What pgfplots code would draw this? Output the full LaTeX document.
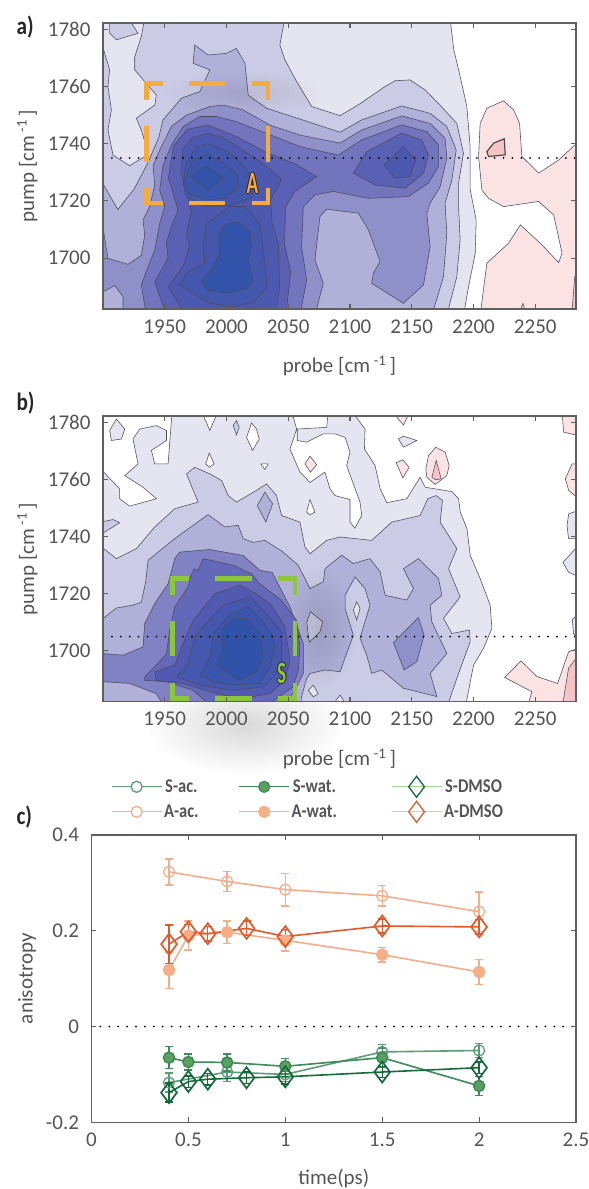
\documentclass[border=0pt]{standalone}
\usepackage{pgfplots}
\usepackage{fontspec}
\setmainfont{Carlito}
\pgfplotsset{compat=1.18}
\usetikzlibrary{fadings}
\tikzfading[name=softglow,inner color=transparent!0,outer color=transparent!100]
\definecolor{txt}{HTML}{555555}
\definecolor{axc}{HTML}{5F5F5F}
\definecolor{cline}{HTML}{4A4A5C}
\definecolor{aA}{HTML}{E5E5F2}\definecolor{aB}{HTML}{CBCBE5}\definecolor{aC}{HTML}{B0B0D9}
\definecolor{aD}{HTML}{8F90CA}\definecolor{aE}{HTML}{7274BD}\definecolor{aF}{HTML}{5A60B3}
\definecolor{aG}{HTML}{4C59AE}\definecolor{aH}{HTML}{4357AC}\definecolor{aI}{HTML}{3B55AB}
\definecolor{aJ}{HTML}{3253A9}
\definecolor{bD}{HTML}{8082C4}\definecolor{bE}{HTML}{6468B8}\definecolor{bF}{HTML}{5259B1}
\definecolor{bG}{HTML}{4558AD}\definecolor{bH}{HTML}{3B55AB}\definecolor{bI}{HTML}{3053A9}
\definecolor{pkA}{HTML}{FBE3E3}\definecolor{pkB}{HTML}{F5C4C8}
\definecolor{boxO}{HTML}{F5AB3E}\definecolor{boxG}{HTML}{8CC63F}
\definecolor{Aac}{HTML}{F5AE8C}\definecolor{Awat}{HTML}{F5AE8C}\definecolor{Awatf}{HTML}{F8AE84}
\definecolor{Adm}{HTML}{E15A2B}\definecolor{Sac}{HTML}{5E9B78}\definecolor{Swat}{HTML}{3F8A5C}
\definecolor{Swatf}{HTML}{5AA060}\definecolor{Sdm}{HTML}{136B3A}
\definecolor{Sdml}{HTML}{A6D49A}\definecolor{Adml}{HTML}{F5C48A}
\newcommand\poly[2]{\addplot[fill=#1,draw=cline,line width=.55pt] coordinates {#2} --cycle;}
\newcommand\seg[2]{\addplot[draw=#1,line width=4.4pt,line cap=butt,line join=miter] coordinates {#2};}
\newcommand\legimg[5]{\draw[color=#1,line width=1.1pt] (0pt,0pt)--(50pt,0pt);\path plot[mark=#3,mark size=#5pt,mark options={draw=#2,fill=#4,line width=1.3pt,solid}] coordinates {(25pt,0pt)};}
\newcommand\lbltext[1]{\fontsize{31}{31}\selectfont\bfseries\scalebox{.62}[1]{#1}}
\newcommand\boxlabel[3]{%
\node[text=black!85,xshift=-1pt] at (axis cs:#1) {\lbltext{#2}};%
\node[text=black!85,xshift=1pt] at (axis cs:#1) {\lbltext{#2}};%
\node[text=black!85,yshift=-1pt] at (axis cs:#1) {\lbltext{#2}};%
\node[text=black!85,yshift=1pt] at (axis cs:#1) {\lbltext{#2}};%
\node[text=#3] at (axis cs:#1) {\lbltext{#2}};}
\pgfplotsset{
 base/.style={scale only axis,axis on top,clip=true,
  axis line style={draw=axc,line width=1.4pt},
  tick style={draw=axc,line width=1.1pt},
  major tick length=5pt,
  tick pos=both, tick align=inside,
  tick label style={font=\fontsize{21}{21}\selectfont,text=txt},
  /pgf/number format/assume math mode=true,
  /pgf/number format/1000 sep={},
  xticklabel style={yshift=-7pt},
  yticklabel style={xshift=-9pt},
 },
 spec/.style={base,width=473pt,
  xmin=1900,xmax=2283,ymin=1682.2,ymax=1782.2,
  xtick={1950,2000,2050,2100,2150,2200,2250},
  ytick={1700,1720,1740,1760,1780},
  every axis y label/.style={at={(axis description cs:-0.16,0.5)},rotate=90,anchor=center,font=\fontsize{21}{21}\selectfont,text=txt},
  every axis x label/.style={at={(axis description cs:0.5,-0.2)},anchor=center,font=\fontsize{21}{21}\selectfont,text=txt},
  xlabel={probe [cm\,\textsuperscript{-1}\,]},ylabel={pump [cm\,\textsuperscript{-1}\,]},
 },
}
\begin{document}
\begin{tikzpicture}[x=1pt,y=1pt]
\path[use as bounding box] (0pt,0pt) rectangle (589pt,1189pt);
\shade[inner color=black!15,outer color=white] (245pt,464pt) ellipse (100pt and 50pt);
\node[anchor=west,text=black!85] at (13pt,1162pt) {\fontsize{25}{25}\selectfont\bfseries\scalebox{.85}[1]{a)}};
\node[anchor=west,text=black!85] at (13pt,786pt) {\fontsize{25}{25}\selectfont\bfseries\scalebox{.85}[1]{b)}};
\node[anchor=west,text=black!85] at (13pt,372pt) {\fontsize{25}{25}\selectfont\bfseries\scalebox{.85}[1]{c)}};
%% panel a
\begin{axis}[spec,at={(103pt,880pt)},anchor=south west,height=286pt]
\poly{aA}{(2181,1784)(2184,1773)(2190,1762)(2194.6,1753)(2197.3,1739)(2197.3,1724)(2202.2,1713.3)(2201.4,1701.7)(2196,1690)(2191.9,1680)(1898,1680)(1898,1784)}
\poly{aB}{(1933.8,1784)(1931,1777.4)(1925.7,1770.4)(1925.7,1765.8)(1933.8,1761.7)(1943.2,1757)(1941.9,1753.5)(1927,1748.9)(1931,1744.8)(1933.8,1740.7)(1933.8,1735.5)(1921.6,1732.3)(1908.1,1736)(1904,1744.8)(1906.8,1751.8)(1904,1760)(1905.4,1765.8)(1900.5,1772.8)(1898,1773)(1898,1680)(2178.4,1680)(2186.5,1693.5)(2189.2,1706.4)(2187.9,1718)(2187.9,1726.2)(2191.9,1736.7)(2186.5,1747.1)(2171.6,1754.1)(2160.8,1758.8)(2148.6,1762.3)(2136.5,1762)(2128.4,1760)(2106.8,1753.6)(2091.9,1749.8)(2069,1753)(2056.8,1761.7)(2047.3,1769.3)(2043.2,1774.5)(2047.3,1784)}
\poly{aB}{(1905.4,1784)(1905.4,1778.6)(1910.8,1776.3)(1928.4,1778.6)(1920.3,1784)}
\poly{pkA}{(2224.4,1755)(2210.8,1752.4)(2205.4,1747.1)(2204.1,1735.5)(2206.8,1723.8)(2212.2,1720.9)(2224.4,1718)(2252.7,1719.8)(2264.9,1715.1)(2267.6,1709.8)(2271.7,1701.7)(2269,1698.4)(2254.1,1705.2)(2237.9,1711.6)(2228.4,1705.2)(2210.8,1698.2)(2205.4,1680)(2285,1680)(2285,1740.7)(2269,1734.3)(2252.7,1729.7)(2239.2,1735.5)(2237.3,1747.1)(2232.5,1751.8)}
\addplot[fill=pkB,draw=black!70,line width=1.2pt] coordinates {(2210.8,1737.2)(2216.3,1740.2)(2224.9,1741.7)(2225.7,1736.1)(2212.2,1735.5)} --cycle;
\poly{pkB}{(2236.5,1680)(2240,1684.2)(2243,1680)}
\poly{pkB}{(2279.5,1680)(2282,1693.5)(2285,1695)(2285,1680)}
\poly{aC}{(1898,1725.6)(1900.5,1725.6)(1912,1717)(1925,1724)(1936,1733)(1945,1742)(1948.6,1748.3)(1963.5,1755.9)(1978.4,1758.2)(1986.5,1765.8)(1973,1768.1)(1974.3,1774.5)(1985.1,1771)(2000,1771.6)(2008,1773.3)(2014.9,1768.1)(2017.6,1757)(2032.4,1752.4)(2059.5,1748.6)(2091.9,1744)(2109.5,1748.3)(2141.9,1753.2)(2164.9,1750.6)(2178.4,1746)(2186,1737.8)(2182.5,1727.3)(2177,1719.2)(2178.4,1708.7)(2175.7,1693.5)(2166.3,1680)(1898,1680)}
\fill[black,opacity=.07,path fading=softglow] (axis cs:2015,1758) ellipse (85pt and 22pt);
\poly{aD}{(1916.2,1680)(1916.2,1686.5)(1909.5,1690.4)(1900.5,1688.3)(1898,1688)(1898,1709.2)(1900.5,1709.2)(1904,1699.9)(1920.3,1697.8)(1931,1701)(1933.8,1708)(1932.4,1713.3)(1937.8,1718)(1941.9,1725.6)(1940.5,1732.3)(1947.3,1739)(1955.4,1746)(1967.6,1750)(1986.5,1753)(1997.3,1753.5)(2013.5,1751.8)(2035.1,1746.5)(2059.5,1743)(2091.9,1740.2)(2109.5,1744.8)(2141.9,1749.7)(2164.9,1747.1)(2177,1741.9)(2178.4,1734.9)(2173,1725)(2164.9,1719.2)(2162.2,1715.7)(2164.9,1704)(2159.5,1690.6)(2143.2,1684.2)(2117.6,1691.2)(2118.9,1694.7)(2124.3,1698.8)(2114.9,1709.9)(2106.8,1715.7)(2081.1,1717.1)(2075.7,1714.5)(2071.6,1699.4)(2078.4,1691.2)(2071.6,1680)}
\poly{aE}{(1935.1,1680)(1931,1690.6)(1936.5,1697)(1941.9,1702.8)(1945.9,1712.1)(1950,1718)(1945.9,1723.8)(1948.6,1732.3)(1955.4,1739.5)(1964.9,1746)(1978.4,1749.5)(1991.9,1749.5)(2008,1747.7)(2032.4,1743.6)(2059.5,1739)(2090.5,1736)(2109.5,1741.3)(2141.9,1746.6)(2162.2,1744.2)(2171.6,1739.6)(2171.6,1732)(2163.5,1726.2)(2147.3,1721.5)(2114.9,1720.9)(2086.5,1723.3)(2071.6,1722.1)(2062.2,1718)(2060.8,1704)(2064.9,1692.4)(2059.5,1680)}
\poly{aF}{(1951.3,1680)(1941.9,1691.7)(1952.7,1699.9)(1951.3,1705.2)(1955.4,1711)(1960.8,1716.8)(1953,1728)(1957,1739)(1968,1745)(1985,1746.5)(2008,1742.5)(2032,1737)(2055.4,1733)(2073,1728.5)(2055.4,1723.3)(2048,1718)(2047,1705)(2052,1695)(2048,1680)}
\poly{aF}{(2102.7,1729.7)(2113.5,1737.2)(2141.9,1743.7)(2158.1,1741.3)(2163.5,1736)(2159.5,1729.7)(2144.6,1724.4)(2120.3,1725.6)}
\poly{aG}{(2127.8,1732.6)(2143.2,1739)(2153.2,1734.3)(2148.6,1728.5)(2136.5,1727.9)}
\poly{aG}{(1967.5,1680)(1952.7,1690)(1964.8,1697)(1970.2,1704)(1967.5,1708.6)(1971.6,1716.2)(1963,1730)(1965,1738)(1972,1742)(1985,1743.6)(1998,1742)(2012,1738)(2030,1733)(2044.6,1727.5)(2035.6,1720.2)(2037,1712)(2042,1705)(2043,1690)(2040,1680)}
\poly{aH}{(1965,1726)(1967,1733)(1975,1738.5)(1985,1740)(2000,1737.5)(2012,1733)(2024,1727)(2020,1721)(2005,1718.5)(1985,1718)(1975,1719.5)(1967,1722)}
\poly{aH}{(1986.5,1684.2)(1962.1,1690.6)(1968.9,1695.2)(1982.4,1698.2)(1981,1704)(1983.8,1712.1)(2002.7,1718)(2014.8,1718)(2027,1712.1)(2031,1697.6)(2033,1690)(2022,1684.5)(2005,1683)}
\poly{aI}{(1966,1727)(1972,1734)(1985,1736.5)(1998,1733)(2009,1729)(2009.5,1725)(2000,1721)(1984,1720.3)(1969,1722.6)}
\poly{aJ}{(1970.8,1728.5)(1983.8,1732)(1997.3,1728)(1985.1,1723.8)}
\poly{aJ}{(1998.6,1711.6)(2009.4,1712.7)(2018.9,1709.2)(2020.2,1704)(2017.5,1699.3)(2021.6,1692.3)(2016.2,1689.4)(2000,1687.7)(1985.1,1688.8)(1979.7,1691.7)(1989.2,1697)(1994.6,1701.7)(1993.2,1707.5)}
\addplot[black,line width=2pt,line cap=round,dash pattern=on 0pt off 8.9pt] coordinates {(1900,1735)(2283,1735)};
\seg{boxO}{(1935.1,1755.3)(1935.1,1761.1)(1948.7,1761.1)}
\seg{boxO}{(1969.7,1761.1)(1998.7,1761.1)}
\seg{boxO}{(2020.3,1761.1)(2033.8,1761.1)(2033.8,1755.3)}
\seg{boxO}{(1935.1,1746.2)(1935.1,1733.7)}
\seg{boxO}{(2033.8,1746.2)(2033.8,1733.7)}
\seg{boxO}{(1935.1,1724.6)(1935.1,1719.2)(1948.7,1719.2)}
\seg{boxO}{(1969.7,1719.2)(1998.7,1719.2)}
\seg{boxO}{(2020.3,1719.2)(2033.8,1719.2)(2033.8,1724.6)}
\boxlabel{2021,1726}{A}{boxO}
\end{axis}
%% panel b
\begin{axis}[spec,at={(103pt,487.3pt)},anchor=south west,height=285.5pt,axis background/.style={fill=white}]
\poly{aA}{(1898,1784)(2101.4,1784)(2112.2,1777.7)(2111.7,1770.7)(2120.3,1764.9)(2124.4,1756.8)(2129.8,1751.9)(2146,1753.3)(2156.8,1760.8)(2160.9,1757.3)(2182.5,1755.8)(2187.9,1753.3)(2189.3,1748.6)(2194.7,1742.8)(2197.3,1733.5)(2205.4,1725.3)(2213.5,1716)(2214.9,1707.9)(2208.1,1700.9)(2200,1695)(2193.3,1680)(1898,1680)}
\poly{white}{(1956,1784)(1952.7,1765.5)(1941.9,1765.5)(1939.2,1770.2)(1951.4,1773.7)(1951.4,1777.2)(1943.2,1778.9)(1929.7,1777.7)(1924.3,1774.2)(1928.4,1765.5)(1917.6,1761.4)(1932.4,1757.3)(1943.2,1753.3)(1921.6,1750.7)(1913.5,1753.3)(1913.5,1756.8)(1900.5,1762.6)(1898,1762.6)(1898,1784)}
\poly{aA}{(1905.4,1777.2)(1910.8,1781.2)(1917.6,1777.7)(1914.9,1774.2)(1906.8,1773.7)}
\poly{white}{(1979.7,1784)(1986.5,1777.2)(1993.2,1784)}
\poly{aB}{(2005.4,1778.9)(2008.1,1780.7)(2010.3,1778.3)(2008.1,1775.6)}
\poly{white}{(2016.2,1774.8)(2020.3,1779.8)(2024.3,1777.7)(2026.5,1774.2)(2021.1,1770.2)}
\poly{white}{(1983.2,1765.5)(1986,1769.3)(1990,1765.5)(1986,1764.3)}
\poly{white}{(2027.8,1765.5)(2033.8,1765.5)(2031.1,1763.5)}
\poly{white}{(2052.7,1784)(2082.4,1784)(2081.1,1778.3)(2057.3,1777.7)(2057.3,1773.7)(2064.9,1773.1)(2078.4,1776)(2087.8,1776)(2096,1774.8)(2100,1769.6)(2097.3,1764.9)(2108.1,1752.1)(2109.5,1747.4)(2104,1743)(2100,1745.1)(2100,1753)(2087.8,1754.4)(2083.8,1756.8)(2079.7,1762.6)(2067.6,1759)(2059.5,1762.6)(2051.4,1770.7)(2056.8,1777.7)}
\poly{white}{(2064.9,1748.6)(2067.6,1753)(2071.6,1748.6)(2067.6,1747.7)}
\poly{pkA}{(2063.5,1765.5)(2067.6,1768.2)(2073,1765.2)(2068,1762.6)}
\poly{pkA}{(2133.8,1784)(2143.3,1779.1)(2148.7,1784)}
\poly{aA}{(2139.3,1774.2)(2143.3,1775.2)(2154.1,1773.7)(2143.3,1771.3)}
\poly{pkA}{(2137.4,1765.9)(2142.8,1766.9)(2147.9,1764.3)(2142.8,1760.6)}
\poly{pkA}{(2161.4,1763.8)(2163.6,1768.4)(2169.5,1771.3)(2177.1,1769.6)(2180.3,1764.9)(2178.4,1761.4)(2169,1758.3)(2162.2,1760.8)}
\poly{pkB}{(2166.3,1760.8)(2169.8,1766.7)(2173.8,1760.3)(2169.5,1759.9)}
\poly{pkA}{(2271.7,1784)(2273,1776.6)(2285,1775.4)(2285,1784)}
\poly{pkA}{(2274.4,1760.3)(2279.8,1765.5)(2285,1765.5)(2285,1753.3)(2277.1,1756.2)}
\poly{aA}{(2275.7,1743.9)(2277.1,1748)(2285,1749.2)(2285,1739.3)(2277,1739.3)}
\poly{aA}{(2272.5,1731)(2285,1737)(2285,1726)(2277,1727.5)}
\poly{aA}{(2280,1711)(2285,1713)(2285,1704)(2281,1706)}
\poly{pkA}{(2225.2,1690.7)(2238.4,1696.5)(2251.4,1691)(2268.1,1688.6)(2277,1699.7)(2285,1700.9)(2285,1680)(2243.3,1680)(2247.3,1685.7)}
\poly{pkB}{(2271.7,1680)(2277,1693.9)(2285,1698.5)(2285,1680)}
\poly{aB}{(1967.6,1762)(1974.3,1764.3)(1986.5,1762)(1996,1759.7)(2001.4,1754.4)(2008.1,1752.1)(2024.3,1756.2)(2032.4,1758.5)(2040.5,1754.4)(2044.6,1747.4)(2059.5,1745.1)(2063.5,1736.4)(2067.6,1734)(2081.1,1738.7)(2091.9,1739.9)(2117.6,1738.7)(2133.8,1745.1)(2156.8,1747.4)(2163,1753.3)(2169.8,1754.4)(2174.9,1752.7)(2173,1745.1)(2186.5,1735.8)(2179.8,1728.8)(2189.2,1718.9)(2175.7,1711.4)(2182.5,1706.1)(2196.8,1707.3)(2197.3,1703.2)(2186.5,1690.4)(2178.4,1680)(1898,1680)(1898,1735.8)(1900.5,1735.8)(1910.8,1732.3)(1927,1735.8)(1941.9,1743.4)(1958.1,1749.8)(1977,1752.1)}
\poly{aB}{(1898,1745.1)(1908.1,1746)(1913.5,1744.9)(1898,1740.7)}
\poly{aC}{(2024.9,1750.9)(2031.1,1755.6)(2037.3,1751.5)(2031.9,1745.1)}
\poly{aC}{(1898,1711.3)(1900.5,1711.5)(1910.8,1715)(1924,1716)(1931,1717)(1934.5,1724)(1936.5,1731.7)(1958,1739.3)(1985,1747.7)(1998.7,1743.4)(2009.5,1744)(2013.5,1739.3)(2021.6,1738)(2031,1738.7)(2044.7,1735)(2058,1730)(2067.6,1721.8)(2078.4,1724.2)(2079.8,1728.8)(2093.3,1733.5)(2102.7,1730.6)(2116.2,1732.3)(2124.4,1727.7)(2128.4,1719.5)(2146,1717.8)(2151.4,1721.8)(2143.3,1728.8)(2155.4,1732.3)(2171.7,1725.3)(2174.4,1719.5)(2164.9,1716)(2166.2,1710.2)(2178.4,1699.1)(2164.9,1692.1)(2170.3,1684)(2143.3,1686.9)(2125.7,1693.3)(2117.6,1692.1)(2113.5,1698.5)(2108.1,1704.4)(2116.2,1716)(2112.2,1721.8)(2104.1,1725.9)(2096,1719.5)(2096,1714.9)(2102.7,1705.5)(2091.9,1692.7)(2079.8,1693.3)(2067.6,1692.1)(2064.9,1690.3)(2060.8,1684)(2059.5,1680)(1898,1680)}
\poly{aB}{(2065,1710)(2068,1713.7)(2077.9,1710.2)(2075.7,1706.7)(2067,1703)}
\poly{aA}{(2066.2,1686.2)(2070.3,1688)(2074.3,1685)(2070.3,1683.9)}
\poly{aA}{(2084,1680)(2091.9,1684.5)(2099,1680)}
\poly{aA}{(2102.7,1714.3)(2105.4,1717.2)(2108.1,1714.9)(2105.4,1710.8)}
\poly{aD}{(2135.2,1702.9)(2155.4,1711.7)(2160,1705.5)(2154.1,1696.2)(2143.8,1693.3)}
\fill[black,opacity=.11,path fading=softglow] (axis cs:2075,1708) ellipse (38pt and 62pt);
\poly{bD}{(1898,1699)(1901.4,1699)(1916.2,1698.5)(1932.4,1701.4)(1933.8,1709.6)(1941.9,1716.6)(1952.7,1723.5)(1958.1,1732.3)(1962.2,1734.6)(1986.5,1735.5)(2013.5,1733.4)(2027,1728.2)(2037,1727.5)(2051.4,1715.4)(2062.2,1702.6)(2062.2,1692.1)(2054,1685.1)(2043.2,1680)(1950,1680)(1943.2,1685)(1921.6,1688.6)(1900.5,1689.2)(1898,1689.2)}
\poly{bE}{(1933.8,1690.9)(1941.9,1694.4)(1951.4,1699)(1954,1707.2)(1958.1,1715.4)(1968.9,1722.4)(1970.8,1725.9)(1973.8,1728.8)(1977,1728.2)(1981.1,1732.3)(2005.4,1730)(2020.3,1727)(2027,1723.5)(2044.6,1717.7)(2056.8,1710.7)(2059.5,1701.4)(2058.1,1693.2)(2054,1687.4)(2040.5,1683.3)(2029.7,1680)(1989.2,1680)(1973,1686.2)(1951.4,1689.2)(1933.8,1689.7)}
\poly{bF}{(1941.9,1692.7)(1958.1,1695)(1964.9,1702.6)(1973,1710.7)(1990.5,1720)(2010.8,1723)(2024.3,1720)(2036.5,1716)(2047.3,1708.4)(2051.4,1696.7)(2047.3,1689.7)(2035.1,1685)(2010.8,1683.3)(1986.5,1685.7)(1964.9,1688.6)(1943.2,1689.7)}
\poly{bG}{(1959.5,1690.9)(1968.9,1695.6)(1974.3,1704.9)(1989.2,1712.5)(1997.3,1716)(2018.9,1718.9)(2032.4,1713)(2044.6,1706.6)(2044.6,1696.7)(2039.2,1691.5)(2029.7,1687.4)(2005.4,1686.2)(1978.4,1688)}
\poly{bH}{(1978.4,1691.5)(1986.5,1697.9)(1989.2,1706)(2002.7,1713)(2017.6,1715.4)(2029.7,1710.1)(2036.5,1706)(2039.2,1701.4)(2035.1,1694.4)(2027,1688.6)(2005.4,1688)(1989.2,1689.2)}
\poly{bI}{(1991.9,1695)(1997.3,1700.2)(1996,1707.2)(2005.4,1711.3)(2016.2,1711.3)(2027,1706)(2029.7,1697.9)(2024.3,1692.7)(2009.5,1689.7)(2000,1692.7)}
\addplot[black,line width=2pt,line cap=round,dash pattern=on 0pt off 8.9pt] coordinates {(1900,1705)(2283,1705)};
\seg{boxG}{(1956.2,1719.5)(1956.2,1725.3)(1970,1725.3)}
\seg{boxG}{(1991,1725.3)(2020.3,1725.3)}
\seg{boxG}{(2042,1725.3)(2055.4,1725.3)(2055.4,1719.5)}
\seg{boxG}{(1956.2,1710.5)(1956.2,1698.1)}
\seg{boxG}{(2055.4,1710.5)(2055.4,1698.1)}
\seg{boxG}{(1956.2,1688.9)(1956.2,1683.3)(1970,1683.3)}
\seg{boxG}{(1991,1683.3)(2020.3,1683.3)}
\seg{boxG}{(2042,1683.3)(2055.4,1683.3)(2055.4,1688.9)}
\boxlabel{2044.7,1692}{S}{boxG}
\end{axis}
%% panel c
\begin{axis}[base,at={(91.5pt,66.7pt)},anchor=south west,width=484.5pt,height=287.3pt,
 xmin=0,xmax=2.5,ymin=-0.2,ymax=0.4,xtick={0,0.5,1,1.5,2,2.5},ytick={-0.2,0,0.2,0.4},
 xticklabels={0,0.5,1,1.5,2,2.5},yticklabels={-0.2,0,0.2,0.4},
 every axis y label/.style={at={(axis description cs:-0.133,0.5)},rotate=90,anchor=center,font=\fontsize{21}{21}\selectfont,text=txt},
 every axis x label/.style={at={(axis description cs:0.5,-0.195)},anchor=center,font=\fontsize{21}{21}\selectfont,text=txt},
 xlabel={time(ps)},ylabel={anisotropy},
 legend columns=2,transpose legend,
 legend style={at={(axis description cs:0.04,1.205)},anchor=north west,draw=none,fill=none,
  font=\fontsize{19.5}{19.5}\selectfont\bfseries,text=txt,row sep=4pt,inner sep=0pt,
  /tikz/column 2/.style={column sep=38pt},/tikz/column 4/.style={column sep=52pt}},
 ebar/.style={error bars/y dir=both,error bars/y explicit,error bars/error bar style={line width=1.4pt},error bars/error mark options={rotate=90,mark size=4pt,line width=1.4pt}},
]
\addplot[color=Sac,line width=1.6pt,mark=o,mark size=5.5pt,mark options={solid,line width=1.3pt},ebar,legend image code/.code={\legimg{Sac}{Sac}{*}{white}{5.5}}] table[x=t,y=v,y error=e]{
t v e
0.4 -0.117 0.02
0.7 -0.095 0.02
1 -0.1 0.015
1.5 -0.053 0.015
2 -0.05 0.015
};\addlegendentry{\scalebox{.85}[1]{S-ac.}}
\addplot[color=Aac,line width=1.6pt,mark=o,mark size=5.5pt,mark options={solid,line width=1.3pt},ebar,legend image code/.code={\legimg{Aac}{Aac}{*}{white}{5.5}}] table[x=t,y=v,y error=e]{
t v e
0.4 0.323 0.027
0.7 0.303 0.021
1 0.286 0.034
1.5 0.273 0.021
2 0.24 0.041
};\addlegendentry{\scalebox{.85}[1]{A-ac.}}
\addplot[color=Swat,line width=1.6pt,mark=*,mark size=5.5pt,mark options={solid,fill=Swatf,draw=Swat},ebar,legend image code/.code={\legimg{Swat}{Swat}{*}{Swatf}{5.5}}] table[x=t,y=v,y error=e]{
t v e
0.4 -0.065 0.023
0.5 -0.074 0.017
0.7 -0.075 0.018
1 -0.083 0.016
1.5 -0.065 0.02
2 -0.124 0.02
};\addlegendentry{\scalebox{.85}[1]{S-wat.}}
\addplot[color=Awat,line width=1.6pt,mark=*,mark size=5.5pt,mark options={solid,fill=Awatf,draw=Awat},ebar,legend image code/.code={\legimg{Aac}{Awatf}{*}{Awatf}{5.5}}] table[x=t,y=v,y error=e]{
t v e
0.4 0.118 0.038
0.5 0.19 0.03
0.7 0.197 0.023
1 0.18 0.022
1.5 0.15 0.015
2 0.114 0.026
};\addlegendentry{\scalebox{.85}[1]{A-wat.}}
\addplot[color=Sdm,line width=1.6pt,mark=diamond,mark size=10.5pt,mark options={solid,line width=1.7pt},ebar,legend image code/.code={\legimg{Sdml}{Sdm}{diamond}{white}{10.5}}] table[x=t,y=v,y error=e]{
t v e
0.4 -0.138 0.02
0.5 -0.115 0.012
0.6 -0.11 0.012
0.8 -0.107 0.012
1 -0.105 0.015
1.5 -0.095 0.012
2 -0.086 0.012
};\addlegendentry{\scalebox{.85}[1]{S-DMSO}}
\addplot[color=Adm,line width=1.6pt,mark=diamond,mark size=10.5pt,mark options={solid,line width=1.7pt},ebar,legend image code/.code={\legimg{Adml}{Adm}{diamond}{white}{10.5}}] table[x=t,y=v,y error=e]{
t v e
0.4 0.172 0.04
0.5 0.198 0.015
0.6 0.194 0.015
0.8 0.205 0.015
1 0.188 0.015
1.5 0.21 0.015
2 0.208 0.015
};\addlegendentry{\scalebox{.85}[1]{A-DMSO}}
\addplot[forget plot,black,line width=2pt,line cap=round,dash pattern=on 0pt off 8.9pt] coordinates {(0,0)(2.5,0)};
\end{axis}
\end{tikzpicture}
\end{document}
